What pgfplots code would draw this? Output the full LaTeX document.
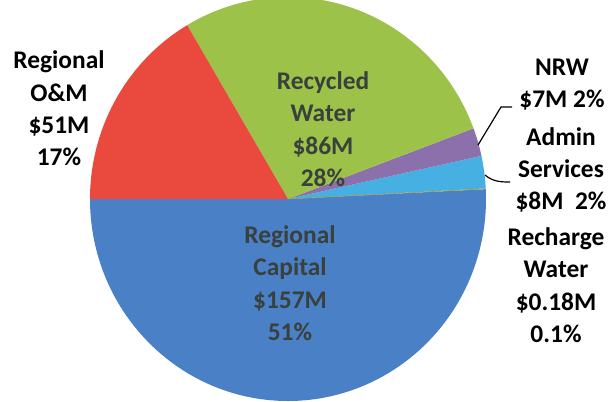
\documentclass[border=0pt]{standalone}
\usepackage{pgfplots}
\usepackage{pgfplotstable}
\pgfplotsset{compat=1.18}
\usepackage{fontspec}
\setmainfont{Carlito}
\definecolor{cBlue}{RGB}{74,128,198}
\definecolor{cYellow}{RGB}{200,190,110}
\definecolor{cCyan}{RGB}{70,176,226}
\definecolor{cPurple}{RGB}{140,112,172}
\definecolor{cGreen}{RGB}{156,194,74}
\definecolor{cRed}{RGB}{234,74,62}
\definecolor{inner}{RGB}{58,64,60}
\pgfplotstableread{
value col
157 cBlue
0.18 cYellow
8 cCyan
7 cPurple
86 cGreen
51 cRed
}\piedata
\begin{document}
\begin{tikzpicture}
\begin{axis}[x=1bp,y=1bp,xmin=0,xmax=610,ymin=0,ymax=401,hide axis,scale only axis,clip=true]
\pgfplotstablegetrowsof{\piedata}\pgfmathtruncatemacro\nlast{\pgfplotsretval-1}
\xdef\total{0}
\pgfplotsforeachungrouped \i in {0,...,\nlast}{%
  \pgfplotstablegetelem{\i}{value}\of\piedata
  \pgfmathsetmacro\t{\total+\pgfplotsretval}\xdef\total{\t}%
}
\xdef\cum{180}
\pgfplotsforeachungrouped \i in {0,...,\nlast}{%
  \pgfplotstablegetelem{\i}{value}\of\piedata \let\v\pgfplotsretval
  \pgfplotstablegetelem{\i}{col}\of\piedata \let\c\pgfplotsretval
  \pgfmathsetmacro\a{\cum}%
  \pgfmathsetmacro\f{\v/\total}%
  \pgfmathsetmacro\b{\cum+\f*360}%
  \edef\tmp{\noexpand\fill[\c] (axis cs:288,202) -- ++(\a:198bp and 202bp) arc[start angle=\a,end angle=\b,x radius=198bp,y radius=202bp] -- cycle;}%
  \tmp
  \xdef\cum{\b}%
}
\draw[cYellow!80!black,line width=0.6pt] (axis cs:288,202) -- ++(2.9:198bp and 202bp);
\tikzset{lab/.style={align=center,inner sep=0pt,font=\bfseries\fontsize{25.5}{32.5}\selectfont}}
\node[lab,text=black] at (axis cs:59,292.5) {Regional\\O\&M\\\$51M\\17\%};
\node[lab,text=inner] at (axis cs:323,272) {Recycled\\Water\\\$86M\\28\%};
\node[lab,text=inner] at (axis cs:290,118) {Regional\\Capital\\\$157M\\51\%};
\node[lab,text=black] at (axis cs:562,316.5) {NRW\\\$7M 2\%};
\node[lab,text=black] at (axis cs:561,231) {Admin\\Services\\\$8M\ \ 2\%};
\node[lab,text=black] at (axis cs:556,116) {Recharge\\Water\\\$0.18M\\0.1\%};
\draw[black,line width=1.2pt] (axis cs:478,256) -- (axis cs:501,294) -- (axis cs:512,294);
\draw[black,line width=1.2pt] (axis cs:485,226) to[out=-40,in=180] (axis cs:510,219);
\end{axis}
\pgfresetboundingbox
\path[use as bounding box] (current axis.south west) rectangle (current axis.north east);
\end{tikzpicture}
\end{document}
